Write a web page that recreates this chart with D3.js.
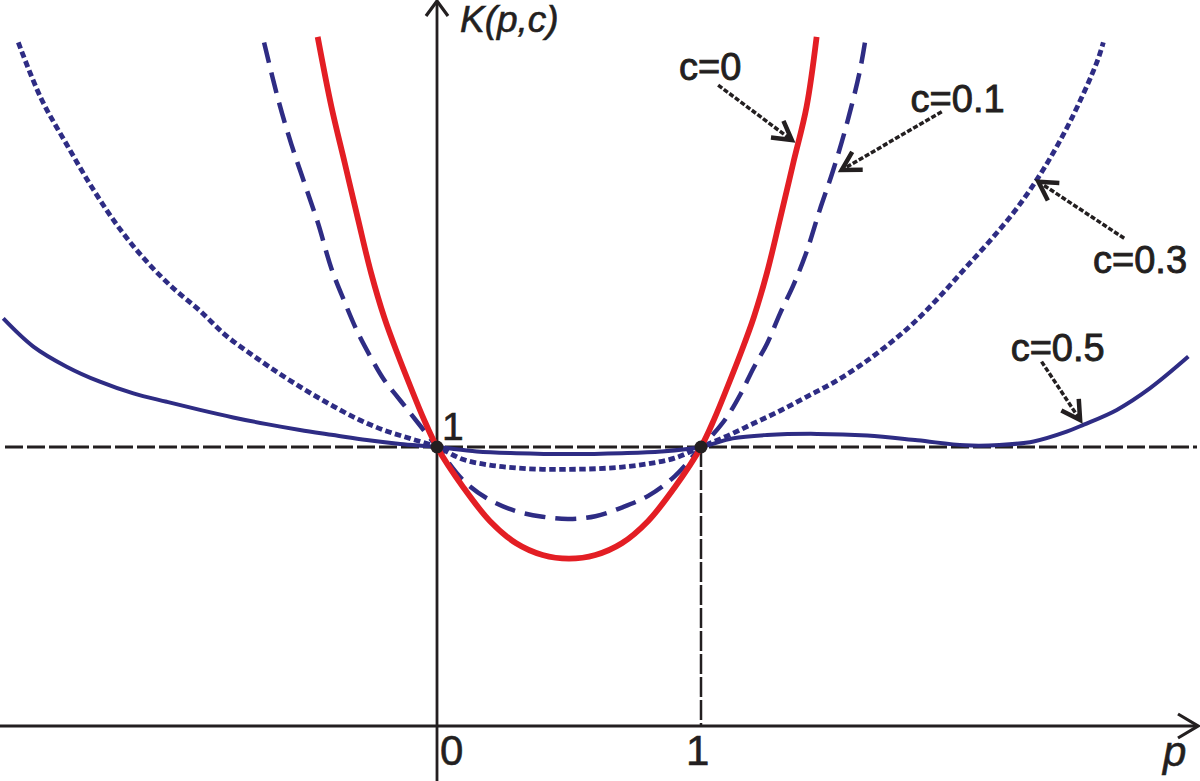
<!DOCTYPE html>
<html>
<head>
<meta charset="utf-8">
<script src="https://cdn.jsdelivr.net/npm/d3@7"></script>
<style>
  body { margin: 0; background: #fff; }
  svg { display: block; }
  text { font-family: "Liberation Sans", Arial, sans-serif; fill: #231f20; }
</style>
</head>
<body>
<svg width="1200" height="781"></svg>
<script>
// K(p,c), [p, K]
var c0 = [[-0.452,2.47],[-0.4,2.22],[-0.35,2.02],[-0.3,1.82],[-0.25,1.625],[-0.2,1.465],[-0.15,1.335],
  [-0.1,1.215],[-0.05,1.10],[0,1.0],[0.1,0.855],[0.2,0.735],[0.3,0.655],[0.4,0.613],[0.5,0.60],
  [0.6,0.613],[0.7,0.655],[0.8,0.735],[0.9,0.855],[1.0,1.0],[1.05,1.10],[1.1,1.215],[1.15,1.335],
  [1.2,1.465],[1.25,1.625],[1.3,1.82],[1.35,2.02],[1.4,2.22],[1.438,2.47]];

var c01 = [[-0.655,2.45],[-0.6,2.24],[-0.55,2.08],[-0.5,1.94],[-0.45,1.80],[-0.4,1.64],[-0.35,1.52],
  [-0.3,1.41],[-0.25,1.32],[-0.2,1.24],[-0.15,1.18],[-0.1,1.12],[-0.05,1.06],[0,1],[0.1,0.88],
  [0.2,0.81],[0.3,0.77],[0.4,0.75],[0.5,0.742],[0.6,0.752],[0.7,0.783],[0.8,0.825],[0.9,0.895],
  [1,1],[1.05,1.05],[1.1,1.11],[1.15,1.19],[1.2,1.285],[1.25,1.37],[1.3,1.48],[1.35,1.58],[1.4,1.70],
  [1.45,1.85],[1.5,1.99],[1.55,2.15],[1.6,2.34],[1.621,2.45]];

var c03 = [[-1.586,2.45],[-1.5,2.25],[-1.4,2.08],[-1.3,1.92],[-1.2,1.78],[-1.1,1.665],[-1.0,1.57],
  [-0.9,1.49],[-0.8,1.40],[-0.7,1.33],[-0.6,1.265],[-0.5,1.205],[-0.4,1.15],[-0.3,1.10],[-0.2,1.06],
  [-0.1,1.03],[0,1],[0.1,0.955],[0.2,0.935],[0.3,0.925],[0.4,0.92],[0.5,0.92],[0.6,0.922],[0.7,0.928],
  [0.8,0.94],[0.9,0.96],[1,1],[1.1,1.04],[1.2,1.085],[1.3,1.13],[1.4,1.18],[1.5,1.23],[1.6,1.29],
  [1.7,1.36],[1.8,1.44],[1.9,1.535],[2.0,1.64],[2.1,1.745],[2.2,1.86],[2.3,2.0],[2.4,2.17],[2.5,2.38],
  [2.524,2.45]];

var c05 = [[-1.643,1.461],[-1.529,1.36],[-1.403,1.288],[-1.277,1.234],[-1.15,1.192],[-1.024,1.162],
  [-0.898,1.133],[-0.772,1.106],[-0.645,1.082],[-0.519,1.061],[-0.393,1.043],[-0.266,1.025],
  [-0.14,1.011],[0,1],[0.15,0.984],[0.3,0.978],[0.5,0.975],[0.7,0.978],[0.85,0.984],[1,1],
  [1.12,1.031],[1.25,1.043],[1.44,1.047],[1.63,1.041],[1.82,1.024],[2.0,1.006],[2.13,1.007],
  [2.26,1.02],[2.385,1.055],[2.45,1.08],[2.575,1.133],[2.7,1.21],[2.846,1.324]];

var pTicks = [0, 1];
var kTicks = [1];
var fixedPoints = [[0, 1], [1, 1]];

// label text, label anchor, arrow start, arrow tip (all in p,K)
var notes = [
  {text: "c=0",   at: [0.917, 2.315], from: [1.065, 2.297], to: [1.344, 2.100]},
  {text: "c=0.1", at: [1.794, 2.202], from: [1.912, 2.202], to: [1.533, 1.993]},
  {text: "c=0.3", at: [2.485, 1.624], from: [2.603, 1.748], to: [2.278, 1.951]},
  {text: "c=0.5", at: [2.173, 1.308], from: [2.290, 1.306], to: [2.436, 1.097]}
];

var svg = d3.select("svg"),
    width = +svg.attr("width"),
    height = +svg.attr("height");

var ink = "#231f20", navy = "#2e2c84", red = "#e31e24";

var x = d3.scaleLinear().domain([0, 1]).range([437, 701]);
var y = d3.scaleLinear().domain([0, 1]).range([726, 447]);

var line = d3.line()
  .x(function(d) { return x(d[0]); })
  .y(function(d) { return y(d[1]); })
  .curve(d3.curveCatmullRom.alpha(0.5));

// dashed guides at K=1 and p=1
svg.append("line")
  .attr("x1", 5).attr("x2", width - 3)
  .attr("y1", y(1)).attr("y2", y(1))
  .attr("stroke", ink).attr("stroke-width", 3)
  .attr("stroke-dasharray", "18,4");

svg.append("line")
  .attr("x1", x(1)).attr("x2", x(1))
  .attr("y1", y(1)).attr("y2", y(0))
  .attr("stroke", ink).attr("stroke-width", 2.5)
  .attr("stroke-dasharray", "20,3");

// axes with open arrow heads
svg.append("line")
  .attr("x1", 0).attr("x2", width - 2)
  .attr("y1", y(0)).attr("y2", y(0))
  .attr("stroke", ink).attr("stroke-width", 2.8);
svg.append("path")
  .attr("d", "M" + (width - 22) + "," + (y(0) - 12) + "L" + (width - 2) + "," + y(0) + "L" + (width - 22) + "," + (y(0) + 12))
  .attr("fill", "none").attr("stroke", ink).attr("stroke-width", 3.2);

svg.append("line")
  .attr("x1", x(0)).attr("x2", x(0))
  .attr("y1", height).attr("y2", 1)
  .attr("stroke", ink).attr("stroke-width", 2.8);
svg.append("path")
  .attr("d", "M" + (x(0) - 11) + ",16L" + x(0) + ",1L" + (x(0) + 11) + ",16")
  .attr("fill", "none").attr("stroke", ink).attr("stroke-width", 3.2);

// curves
var series = [
  {data: c05, color: navy, width: 4,   dash: null},
  {data: c03, color: navy, width: 4.8, dash: "6.5,3.5"},
  {data: c01, color: navy, width: 4.5, dash: "21,10"},
  {data: c0,  color: red,  width: 5.8, dash: null}
];

svg.append("g")
  .selectAll("path")
  .data(series)
  .enter().append("path")
    .attr("d", function(d) { return line(d.data); })
    .attr("fill", "none")
    .attr("stroke", function(d) { return d.color; })
    .attr("stroke-width", function(d) { return d.width; })
    .attr("stroke-dasharray", function(d) { return d.dash; });

svg.append("g")
  .selectAll("circle")
  .data(fixedPoints)
  .enter().append("circle")
    .attr("cx", function(d) { return x(d[0]); })
    .attr("cy", function(d) { return y(d[1]); })
    .attr("r", 6.5)
    .attr("fill", ink);

// tick labels
svg.selectAll(".ptick")
  .data(pTicks)
  .enter().append("text")
    .attr("class", "ptick")
    .attr("x", function(d) { return d === 0 ? x(d) + 3 : x(d) - 15; })
    .attr("y", y(0) + 39)
    .style("font-size", "42px")
    .style("stroke", ink).style("stroke-width", 0.6)
    .text(function(d) { return d; });

svg.selectAll(".ktick")
  .data(kTicks)
  .enter().append("text")
    .attr("class", "ktick")
    .attr("x", x(0) + 5)
    .attr("y", function(d) { return y(d) - 7; })
    .style("font-size", "39px")
    .style("stroke", ink).style("stroke-width", 0.6)
    .text(function(d) { return d; });

svg.append("text")
  .attr("x", x(0) + 23).attr("y", 32)
  .style("font-size", "37px").style("font-style", "italic")
  .style("stroke", ink).style("stroke-width", 0.6)
  .text("K(p,c)");

svg.append("text")
  .attr("x", width - 37).attr("y", 766)
  .style("font-size", "42px").style("font-style", "italic")
  .style("stroke", ink).style("stroke-width", 0.6)
  .text("p");

// curve labels with dashed pointer arrows
var note = svg.append("g").selectAll("g")
  .data(notes)
  .enter().append("g");

note.append("text")
  .attr("x", function(d) { return x(d.at[0]); })
  .attr("y", function(d) { return y(d.at[1]); })
  .style("font-size", "38px")
  .style("stroke", ink).style("stroke-width", 0.9)
  .text(function(d) { return d.text; });

note.append("line")
  .attr("x1", function(d) { return x(d.from[0]); })
  .attr("y1", function(d) { return y(d.from[1]); })
  .attr("x2", function(d) { return x(d.to[0]); })
  .attr("y2", function(d) { return y(d.to[1]); })
  .attr("stroke", ink).attr("stroke-width", 3.5)
  .attr("stroke-dasharray", "5,2");

note.append("path")
  .attr("d", function(d) {
    var x1 = x(d.from[0]), y1 = y(d.from[1]), x2 = x(d.to[0]), y2 = y(d.to[1]);
    var a = Math.atan2(y1 - y2, x1 - x2), len = 21, spread = 0.52;
    return "M" + (x2 + len * Math.cos(a - spread)) + "," + (y2 + len * Math.sin(a - spread)) +
      "L" + x2 + "," + y2 +
      "L" + (x2 + len * Math.cos(a + spread)) + "," + (y2 + len * Math.sin(a + spread));
  })
  .attr("fill", "none").attr("stroke", ink).attr("stroke-width", 4.5);
</script>
</body>
</html>
